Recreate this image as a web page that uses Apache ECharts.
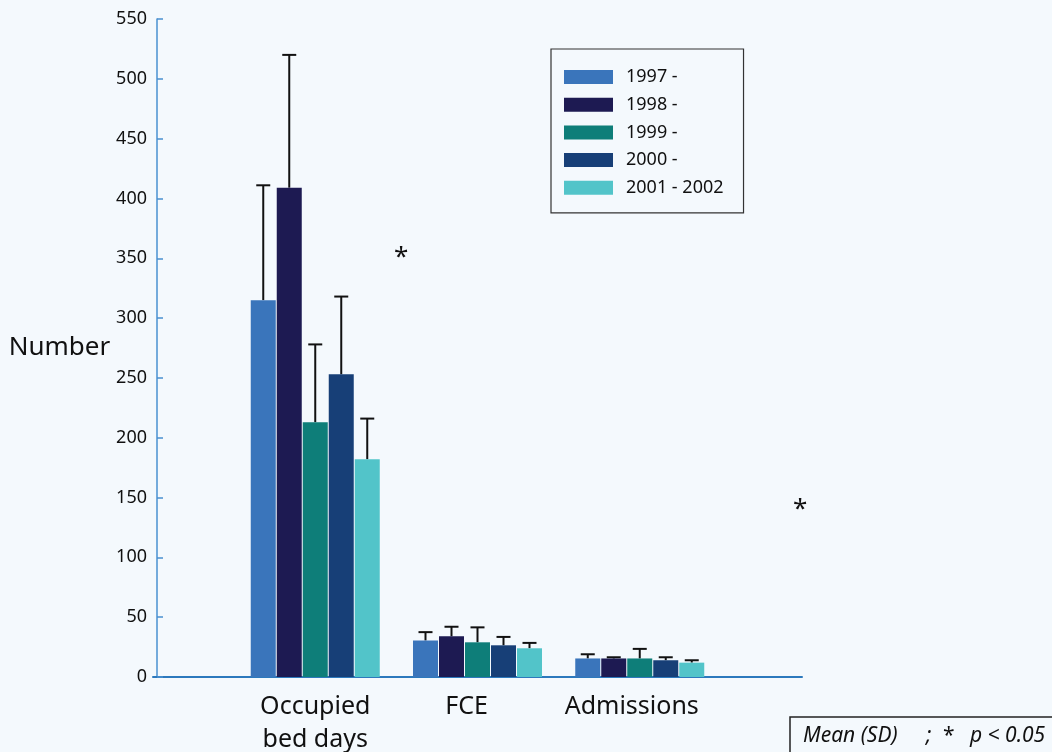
<!DOCTYPE html>
<html>
<head>
<meta charset="utf-8">
<script src="https://cdn.jsdelivr.net/npm/echarts@6/dist/echarts.min.js"></script>
<style>
  html, body { margin: 0; padding: 0; background: #f4f9fd; }
  #chart { width: 1052px; height: 752px; }
</style>
</head>
<body>
<div id="chart"></div>
<script>
// Measures shown on the x axis (padded with empty slots at both ends)
const categories = ['', 'Occupied\nbed days', 'FCE', 'Admissions', ''];
const years = ['1997 -', '1998 -', '1999 -', '2000 -', '2001 - 2002'];
const yearColors = ['#3a75bb', '#1d1a52', '#0e7e79', '#173f77', '#52c4c9'];

// Mean values per year: [Occupied bed days, FCE, Admissions]
const mean1997 = [315, 30.5, 15.5];
const mean1998 = [409, 34, 15.5];
const mean1999 = [213, 29, 15.5];
const mean2000 = [253, 26.5, 14];
const mean2001 = [182, 24, 12];

// Standard deviations per year: [Occupied bed days, FCE, Admissions]
const sd1997 = [96, 7, 3.5];
const sd1998 = [111, 8, 1];
const sd1999 = [65, 12.5, 8];
const sd2000 = [65, 7, 2.5];
const sd2001 = [34, 4.5, 2];

const yTicks = { min: 0, max: 550, interval: 50 };

const means = [mean1997, mean1998, mean1999, mean2000, mean2001];
const sds = [sd1997, sd1998, sd1999, sd2000, sd2001];

const FONT = 'Noto Sans';
const BAR_W = 25;
const BAR_GAP = 1;

const barSeries = years.map((y, k) => ({
  name: y,
  type: 'bar',
  barWidth: BAR_W,
  barGap: (BAR_GAP / BAR_W * 100) + '%',
  itemStyle: { color: yearColors[k] },
  data: [null, ...means[k], null],
  z: 2
}));

// Error bars: [categoryIndex, seriesIndex, mean, mean + sd]
const errData = [];
means.forEach((m, k) => {
  m.forEach((v, c) => errData.push([c + 1, k, v, v + sds[k][c]]));
});

const errSeries = {
  type: 'custom',
  z: 1,
  silent: true,
  data: errData,
  encode: { x: 0, y: [2, 3] },
  renderItem: function (params, api) {
    const c = api.value(0), k = api.value(1);
    const lo = api.coord([c, api.value(2)]);
    const hi = api.coord([c, api.value(3)]);
    const n = years.length;
    const x = lo[0] + (k - (n - 1) / 2) * (BAR_W + BAR_GAP);
    const cap = 7;
    const style = { stroke: '#111', lineWidth: 2 };
    return {
      type: 'group',
      children: [
        { type: 'line', shape: { x1: x, y1: lo[1], x2: x, y2: hi[1] }, style },
        { type: 'line', shape: { x1: x - cap, y1: hi[1], x2: x + cap, y2: hi[1] }, style }
      ]
    };
  }
};

// Category labels sit slightly left of their tick; right padding nudges them
const labelShift = { 'FCE': 22, 'Admissions': 16 };

const chart = echarts.init(document.getElementById('chart'));
chart.setOption({
  backgroundColor: '#f4f9fd',
  animation: false,
  textStyle: { fontFamily: FONT },
  grid: { left: 153, right: 250, top: 19, bottom: 75, outerBoundsMode: 'none', containLabel: false },
  legend: {
    data: years,
    orient: 'vertical',
    left: 551,
    top: 49,
    padding: [19, 20, 16, 13],
    borderColor: '#333',
    borderWidth: 1.2,
    itemWidth: 49,
    itemHeight: 14,
    itemGap: 9.7,
    icon: 'rect',
    selectedMode: false,
    textStyle: { fontFamily: FONT, fontSize: 18, color: '#111', padding: [0, 0, 0, 8] }
  },
  xAxis: {
    type: 'category',
    data: categories,
    boundaryGap: false,
    axisLine: { lineStyle: { color: '#2c79bd', width: 2 } },
    axisTick: { show: false },
    splitLine: { show: false },
    axisLabel: {
      interval: 0,
      margin: 13,
      fontFamily: FONT,
      fontSize: 25,
      lineHeight: 33,
      color: '#111',
      formatter: function (v) {
        const p = labelShift[v];
        return p ? '{s' + p + '|' + v + '}' : v;
      },
      rich: {
        s22: { fontSize: 25, fontFamily: FONT, color: '#111', padding: [0, 22, 0, 0] },
        s16: { fontSize: 25, fontFamily: FONT, color: '#111', padding: [0, 16, 0, 0] }
      }
    }
  },
  yAxis: {
    type: 'value',
    min: yTicks.min,
    max: yTicks.max,
    interval: yTicks.interval,
    offset: -4,
    name: 'Number',
    nameLocation: 'middle',
    nameRotate: 0,
    nameGap: 46,
    nameTextStyle: { fontFamily: FONT, fontSize: 26, color: '#111', align: 'right' },
    axisLine: { show: true, lineStyle: { color: '#4a90d0', width: 1.5 } },
    axisTick: { show: true, inside: true, length: 6, lineStyle: { color: '#4a90d0', width: 1.5 } },
    splitLine: { show: false },
    axisLabel: { margin: 10, fontFamily: FONT, fontSize: 18, color: '#111' }
  },
  graphic: [
    { type: 'text', left: 394, top: 245, style: { text: '*', fontFamily: FONT, fontSize: 26, fill: '#111' } },
    { type: 'text', left: 793, top: 497, style: { text: '*', fontFamily: FONT, fontSize: 26, fill: '#111' } },
    { type: 'rect', shape: { x: 790, y: 717, width: 300, height: 60 }, style: { fill: 'none', stroke: '#222', lineWidth: 1.5 } },
    { type: 'text', left: 803, top: 726, style: { text: 'Mean (SD)', fontFamily: FONT, fontStyle: 'italic', fontSize: 21, fill: '#111' } },
    { type: 'text', left: 926, top: 726, style: { text: ';', fontFamily: FONT, fontStyle: 'italic', fontSize: 21, fill: '#111' } },
    { type: 'text', left: 943, top: 726, style: { text: '*', fontFamily: FONT, fontSize: 21, fill: '#111' } },
    { type: 'text', left: 970, top: 726, style: { text: 'p < 0.05', fontFamily: FONT, fontStyle: 'italic', fontSize: 21, fill: '#111' } }
  ],
  series: [...barSeries, errSeries]
});
</script>
</body>
</html>
